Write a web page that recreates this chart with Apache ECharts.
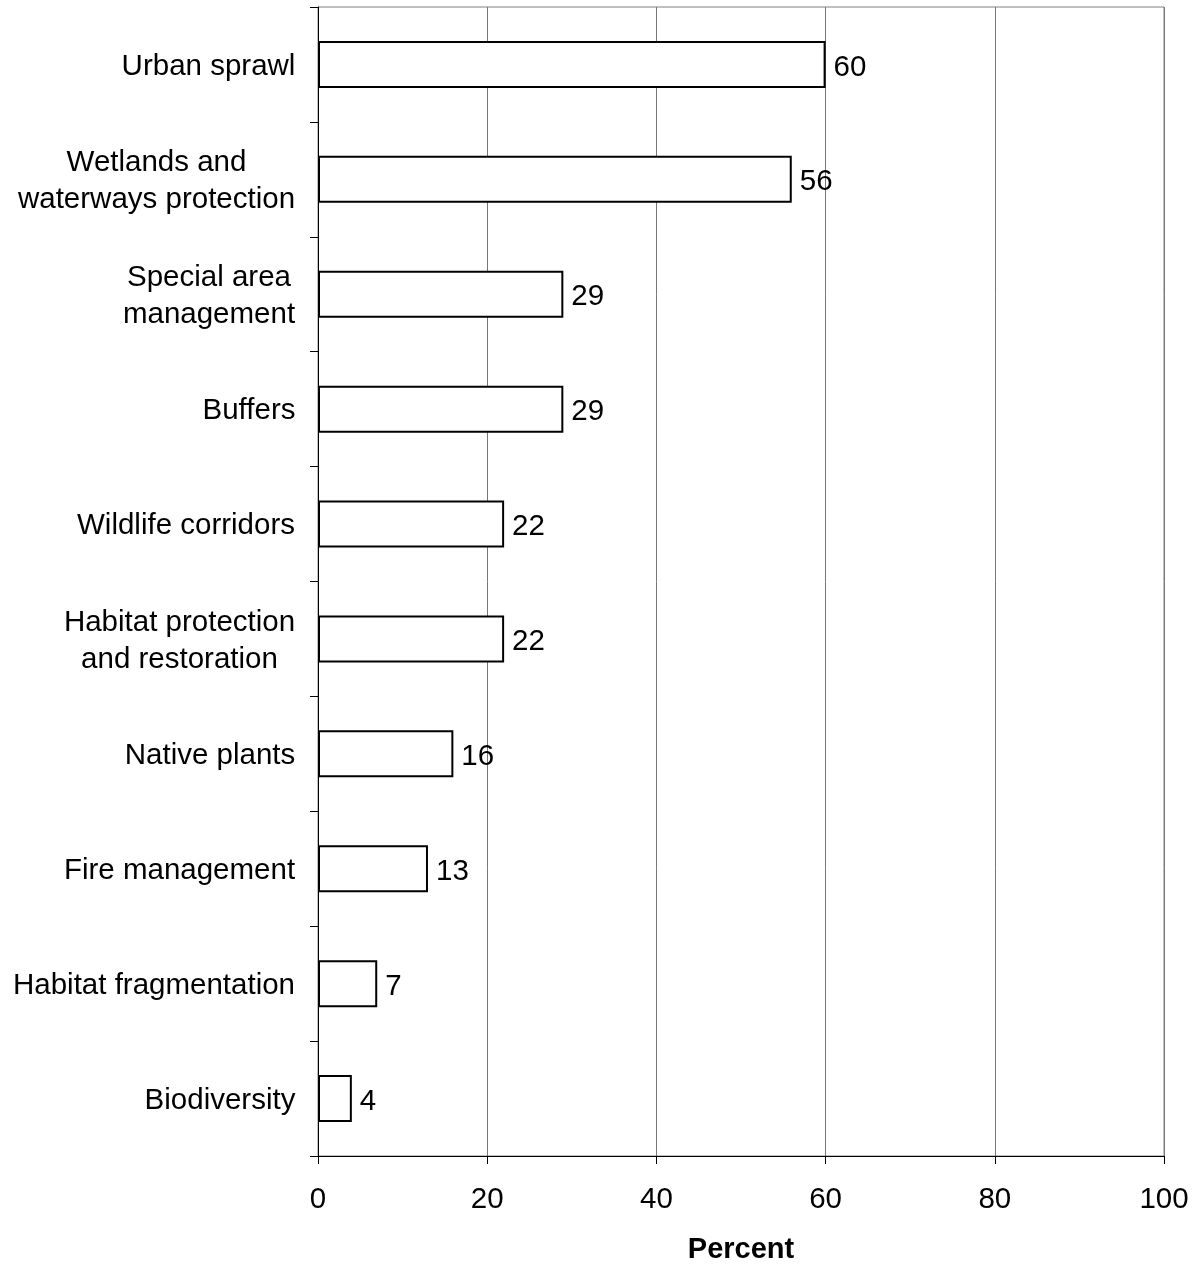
<!DOCTYPE html>
<html>
<head>
<meta charset="utf-8">
<script src="https://cdn.jsdelivr.net/npm/echarts@6/dist/echarts.min.js"></script>
<style>
  html, body { margin: 0; padding: 0; background: #fff; }
  #chart { width: 1199px; height: 1264px; }
</style>
</head>
<body>
<div id="chart"></div>
<script>
// Planning topics, listed top to bottom
const categories = [
  'Urban sprawl',
  'Wetlands and\nwaterways protection',
  'Special area\nmanagement',
  'Buffers',
  'Wildlife corridors',
  'Habitat protection\nand restoration',
  'Native plants',
  'Fire management',
  'Habitat fragmentation',
  'Biodiversity'
];
// Share of respondents (%)
const percentValues = [60, 56, 29, 29, 22, 22, 16, 13, 7, 4];
// Value-axis ticks
const xTicks = [0, 20, 40, 60, 80, 100];

const FONT = '"Liberation Sans", Arial, sans-serif';
const LABEL_SIZE = 29.5;

// Multi-line category labels: block sits right against the axis,
// while each line is centred inside the block.
const measureCtx = document.createElement('canvas').getContext('2d');
measureCtx.font = LABEL_SIZE + 'px ' + FONT;
const labelRich = {};
categories.forEach(function (name, i) {
  const widest = Math.max.apply(null, name.split('\n').map(function (s) {
    return measureCtx.measureText(s).width;
  }));
  labelRich['c' + i] = {
    width: Math.ceil(widest) + 1,
    align: 'center',
    fontSize: LABEL_SIZE,
    lineHeight: 37,
    color: '#000',
    fontFamily: FONT
  };
});

const chart = echarts.init(document.getElementById('chart'), null, { renderer: 'canvas' });
chart.setOption({
  animation: false,
  backgroundColor: '#ffffff',
  textStyle: { fontFamily: FONT },
  grid: {
    left: 318, right: 35, top: 7, bottom: 108,
    outerBoundsMode: 'none',
    containLabel: false,
    show: true, borderColor: '#808080', borderWidth: 1
  },
  xAxis: {
    type: 'value',
    min: xTicks[0],
    max: xTicks[xTicks.length - 1],
    interval: xTicks[1] - xTicks[0],
    name: 'Percent',
    nameLocation: 'middle',
    nameGap: 79,
    nameTextStyle: { fontSize: 29, fontWeight: 'bold', color: '#000', fontFamily: FONT },
    axisLine: { show: true, lineStyle: { color: '#000', width: 1 } },
    axisTick: { show: true, inside: false, length: 8, lineStyle: { color: '#000' } },
    axisLabel: { fontSize: LABEL_SIZE, color: '#000', margin: 29, fontFamily: FONT },
    splitLine: { show: true, lineStyle: { color: '#777', width: 1 } }
  },
  yAxis: {
    type: 'category',
    data: categories,
    inverse: true,
    axisLine: { show: true, lineStyle: { color: '#000', width: 1 } },
    axisTick: { show: true, inside: false, length: 8, lineStyle: { color: '#000' } },
    axisLabel: {
      fontSize: LABEL_SIZE, color: '#000', margin: 22, lineHeight: 37,
      align: 'right', padding: [4, 0, 0, 0], fontFamily: FONT,
      formatter: function (value, index) {
        return value.split('\n').map(function (line) {
          return '{c' + index + '|' + line + '}';
        }).join('\n');
      },
      rich: labelRich
    },
    splitLine: { show: false }
  },
  series: [{
    type: 'bar',
    data: percentValues,
    barWidth: 47,
    itemStyle: { color: '#ffffff', borderColor: '#000000', borderWidth: 2 },
    label: {
      show: true, position: 'right', distance: 8, offset: [0, 3],
      fontSize: LABEL_SIZE, color: '#000', fontFamily: FONT
    }
  }]
});
</script>
</body>
</html>
